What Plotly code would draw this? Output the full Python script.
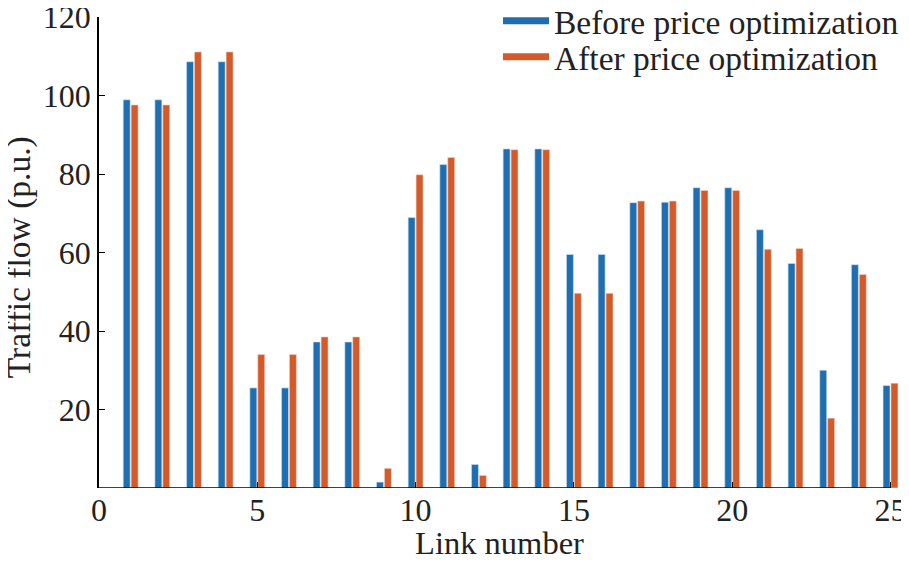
import plotly.graph_objects as go

# link numbers and flows
links = list(range(1, 26))
before = [98.9, 98.9, 108.6, 108.6, 25.5, 25.5, 37.2, 37.2, 1.5, 68.9,
          82.4, 6.0, 86.4, 86.4, 59.5, 59.5, 72.7, 72.8, 76.5, 76.5,
          65.8, 57.2, 30.0, 56.9, 26.1]
after = [97.6, 97.6, 111.1, 111.1, 34.0, 34.0, 38.5, 38.5, 5.0, 79.8,
         84.2, 3.2, 86.2, 86.2, 49.6, 49.6, 73.1, 73.1, 75.8, 75.8,
         60.8, 61.0, 17.8, 54.4, 26.7]
names = ['Before price optimization', 'After price optimization']
x_ticks = [0, 5, 10, 15, 20, 25]
y_ticks = [0, 20, 40, 60, 80, 100, 120]

blue = '#1f6fb0'
orange = '#d25a2b'
font = 'Liberation Serif'
# page body has an 8px margin, so the figure sits 8px in from the corner
W, H = 909, 553
L, R, T, B = 91, 17, 9, 73

fig = go.Figure()
fig.add_trace(go.Bar(x=links, y=before, marker_color=blue, showlegend=False,
                     marker_line=dict(color='#cfe3f3', width=0.6)))
fig.add_trace(go.Bar(x=links, y=after, marker_color=orange, showlegend=False,
                     marker_line=dict(color='#f3d6c8', width=0.6)))

# line style legend swatches, one legend box per entry so spacing is tight
for i, (nm, col) in enumerate(zip(names, [blue, orange])):
    fig.add_trace(go.Scatter(x=[None], y=[None], mode='lines', name=nm,
                             legend='legend' if i == 0 else 'legend2',
                             line=dict(color=col, width=7)))

# x axis line only to 25 (last bar pokes out past it)
fig.add_shape(type='line', x0=0, x1=25, y0=0, y1=0, xref='x', yref='y',
              line=dict(color='black', width=1.5))

# y title as annotation so it can sit further left
fig.add_annotation(text='Traffic flow (p.u.)', textangle=-90, showarrow=False,
                   xref='paper', yref='paper',
                   x=(11 - L) / (W - L - R), y=0.49,
                   xanchor='center', yanchor='middle',
                   font=dict(size=33.5))

leg = dict(xref='container', yref='container', x=490 / W, xanchor='left',
           yanchor='middle', bgcolor='rgba(0,0,0,0)',
           font=dict(size=33.5), itemwidth=46)

fig.update_layout(
    width=W, height=H,
    margin=dict(l=L, r=R, t=T, b=B, autoexpand=False),
    plot_bgcolor='white', paper_bgcolor='white',
    barmode='group', bargap=0.5, bargroupgap=0.12,
    font=dict(family=font, size=32, color='#222'),
    legend=dict(leg, y=1 - 13 / H),
    legend2=dict(leg, y=1 - 49 / H),
    xaxis=dict(range=[0, 25.3], tickvals=x_ticks, ticks='inside', ticklen=6,
               tickcolor='black', showline=False, showgrid=False,
               zeroline=False, automargin=False, ticklabeloverflow='allow',
               title=dict(text='Link number', standoff=2,
                          font=dict(size=32.5))),
    yaxis=dict(range=[0, 120], tickvals=y_ticks,
               ticktext=[''] + [str(v) for v in y_ticks[1:]],
               ticks='inside', ticklen=6, tickcolor='black', showline=True,
               linecolor='black', linewidth=1.5, showgrid=False,
               zeroline=False, automargin=False, ticklabeloverflow='allow'),
)

fig.write_html('out.html')
